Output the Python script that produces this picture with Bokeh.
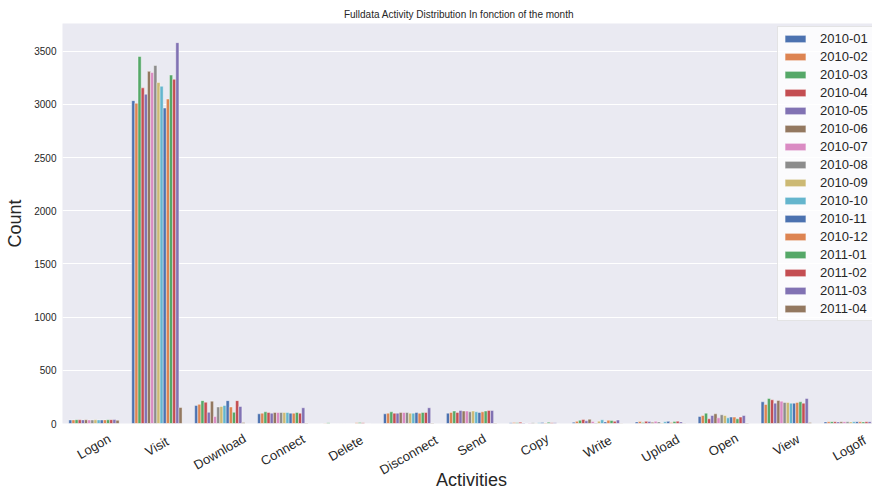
import math
from bokeh.plotting import figure
from bokeh.layouts import column
from bokeh.models import Range1d, FixedTicker
from bokeh.core.properties import value
from bokeh.embed import file_html
from bokeh.resources import INLINE

activities = ["Logon", "Visit", "Download", "Connect", "Delete", "Disconnect", "Send",
              "Copy", "Write", "Upload", "Open", "View", "Logoff"]
months = ["2010-01", "2010-02", "2010-03", "2010-04", "2010-05", "2010-06", "2010-07",
          "2010-08", "2010-09", "2010-10", "2010-11", "2010-12", "2011-01", "2011-02",
          "2011-03", "2011-04"]
palette = ["#4C72B0", "#DD8452", "#55A868", "#C44E52", "#8172B3",
           "#937860", "#DA8BC3", "#8C8C8C", "#CCB974", "#64B5CD"]

# counts per activity, one value per month (in month order)
logon = [33, 34, 36, 35, 34, 35, 34, 33, 35, 34, 33, 34, 35, 36, 37, 30]
visit = [3035, 3010, 3450, 3155, 3095, 3310, 3300, 3365, 3205, 3170, 2965, 3050, 3275, 3235, 3580, 150]
download = [170, 180, 215, 200, 105, 210, 65, 155, 160, 170, 215, 155, 105, 215, 160, 10]
connect = [91, 97, 110, 104, 97, 104, 104, 104, 104, 104, 97, 97, 104, 97, 148, 5]
delete = [0, 2, 8, 0, 0, 0, 0, 0, 0, 0, 0, 6, 10, 8, 0, 0]
disconnect = [91, 97, 110, 97, 97, 104, 104, 104, 97, 97, 104, 97, 104, 104, 148, 5]
send = [97, 104, 117, 104, 123, 117, 117, 110, 117, 110, 104, 110, 117, 123, 123, 5]
copy = [8, 10, 6, 12, 5, 0, 4, 8, 3, 6, 10, 5, 12, 8, 6, 0]
write = [12, 20, 30, 38, 25, 40, 18, 5, 22, 35, 15, 30, 28, 20, 32, 2]
upload = [15, 18, 10, 20, 18, 12, 20, 15, 5, 16, 20, 10, 18, 22, 15, 2]
open_ = [66, 75, 97, 44, 75, 91, 53, 82, 75, 53, 60, 60, 44, 60, 75, 5]
view = [204, 179, 236, 223, 191, 217, 210, 198, 198, 191, 191, 198, 204, 191, 236, 10]
logoff = [15, 16, 17, 16, 15, 16, 17, 16, 15, 16, 17, 16, 15, 16, 17, 3]

counts = [logon, visit, download, connect, delete, disconnect, send,
          copy, write, upload, open_, view, logoff]

yticks = [0, 500, 1000, 1500, 2000, 2500, 3000, 3500]

title_text = "Fulldata Activity Distribution In fonction of the month"
xlabel = "Activities"
ylabel = "Count"

FONT = "Liberation Sans"
TXT = "#262626"
W = 872
LEFT = 62

xr = Range1d(-0.5, 12.37)


def strip(fig):
    fig.background_fill_color = "white"
    fig.border_fill_color = "white"
    fig.outline_line_color = None
    fig.xaxis.visible = False
    fig.yaxis.visible = False
    fig.xgrid.visible = False
    fig.ygrid.visible = False


# --- title strip ---
pt = figure(width=W, height=23, output_backend="svg", toolbar_location=None,
            x_range=xr, y_range=Range1d(-23, 0),
            min_border_left=LEFT, min_border_right=0, min_border_top=0, min_border_bottom=0)
strip(pt)
pt.text(x=[5.8], y=[-14], text=[title_text], text_align="center", text_baseline="middle",
        text_font=value(FONT), text_font_size="10px", text_color=TXT)

# --- main plot ---
BB = 6
p = figure(width=W, height=400 + BB, output_backend="svg", toolbar_location=None,
           x_range=xr, y_range=Range1d(0, 3760),
           min_border_left=LEFT, min_border_right=0, min_border_top=0, min_border_bottom=BB)
p.background_fill_color = "#EAEAF2"
p.border_fill_color = "white"
p.outline_line_color = None

n = len(months)
bw = 0.8 / n
for j, m in enumerate(months):
    xs = [i - 0.4 + bw * (j + 0.5) for i in range(len(activities))]
    tops = [c[j] for c in counts]
    p.vbar(x=xs, top=tops, width=bw, bottom=0,
           fill_color=palette[j % len(palette)], line_color="white", line_width=0.4,
           legend_label=m)

p.xgrid.visible = False
p.ygrid.grid_line_color = "white"
p.ygrid.grid_line_width = 1
p.ygrid.ticker = FixedTicker(ticks=yticks)

p.xaxis.visible = False
p.yaxis.ticker = FixedTicker(ticks=yticks)
p.yaxis.axis_line_color = None
p.yaxis.major_tick_line_color = None
p.yaxis.minor_tick_line_color = None
p.yaxis.major_tick_out = 0
p.yaxis.major_tick_in = 0
p.yaxis.major_label_text_font_size = "10px"
p.yaxis.major_label_text_font = FONT
p.yaxis.major_label_text_color = TXT
p.yaxis.major_label_standoff = 6
p.yaxis.axis_label = ylabel
p.yaxis.axis_label_text_font = FONT
p.yaxis.axis_label_text_font_size = "18px"
p.yaxis.axis_label_text_font_style = "normal"
p.yaxis.axis_label_text_color = TXT
p.yaxis.axis_label_standoff = 6

lg = p.legend[0]
lg.location = (715, 102)
lg.label_text_font = FONT
lg.label_text_font_size = "13px"
lg.label_text_color = TXT
lg.glyph_width = 26
lg.glyph_height = 9
lg.label_height = 13
lg.label_standoff = 12
lg.spacing = 3
lg.padding = 4
lg.margin = 0
lg.background_fill_color = "white"
lg.background_fill_alpha = 0.8
lg.border_line_color = "#CCCCCC"

# --- category labels + x axis title strip ---
HB = 488 - 23 - 400 - BB
pb = figure(width=W, height=HB, output_backend="svg", toolbar_location=None,
            x_range=xr, y_range=Range1d(-HB, 0),
            min_border_left=LEFT, min_border_right=0, min_border_top=0, min_border_bottom=0)
strip(pb)
ang = math.radians(30)
ys = []
for name in activities:
    w = len(name) * 6.8
    ext = w * math.sin(ang) + 15 * math.cos(ang)
    ys.append(-(8 + ext / 2) + BB)
pb.text(x=list(range(len(activities))), y=ys, text=activities, angle=ang,
        text_align="center", text_baseline="middle",
        text_font=value(FONT), text_font_size="13px", text_color=TXT)
pb.text(x=[(len(activities) - 1) / 2], y=[-56 + BB], text=[xlabel],
        text_align="center", text_baseline="middle",
        text_font=value(FONT), text_font_size="18px", text_color=TXT)

layout = column(pt, p, pb, spacing=0)
open("out.html", "w").write(file_html(layout, INLINE))
